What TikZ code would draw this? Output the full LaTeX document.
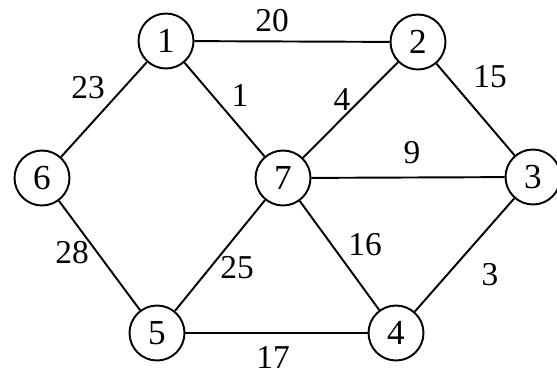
\documentclass[tikz,border=0pt]{standalone}
\usepackage{fontspec}
\setmainfont{Liberation Serif}
\usepackage{tikz}
\usetikzlibrary{calc,positioning}

\begin{document}
\begin{tikzpicture}[x=0.02cm, y=-0.02cm,
  vertex/.style={draw, circle, line width=1.1pt, minimum size=1.1cm, inner sep=0pt, fill=white, font=\fontsize{20}{22}\selectfont},
  weight/.style={font=\fontsize{19}{21}\selectfont, inner sep=1pt},
  link/.style={line width=1.1pt}]
\useasboundingbox (0,0) rectangle (557,376);
% vertici
\node[vertex] (n1) at (166,41) {1};
\node[vertex] (n2) at (418,42) {2};
\node[vertex] (n3) at (533,177) {3};
\node[vertex] (n4) at (396,333) {4};
\node[vertex] (n5) at (157,333) {5};
\node[vertex] (n6) at (42,178) {6};
\node[vertex] (n7) at (283,178) {7};

% archi
\draw[link] (n1) -- (n2);
\draw[link] (n1) -- (n6);
\draw[link] (n1) -- (n7);
\draw[link] (n2) -- (n7);
\draw[link] (n2) -- (n3);
\draw[link] (n7) -- (n3);
\draw[link] (n6) -- (n5);
\draw[link] (n7) -- (n5);
\draw[link] (n7) -- (n4);
\draw[link] (n3) -- (n4);
\draw[link] (n5) -- (n4);

% pesi
\node[weight] (w12) at (272,21) {20};
\node[weight] (w16) at (88,88) {23};
\node[weight] (w17) at (240,95) {1};
\node[weight] (w27) at (342,100) {4};
\node[weight] (w23) at (490,77) {15};
\node[weight] (w37) at (412,153) {9};
\node[weight] (w56) at (72,253) {28};
\node[weight] (w57) at (237,268) {25};
\node[weight] (w47) at (365,245) {16};
\node[weight] (w34) at (490,275) {3};
\node[weight] (w45) at (273,357) {17};
\end{tikzpicture}
\end{document}
